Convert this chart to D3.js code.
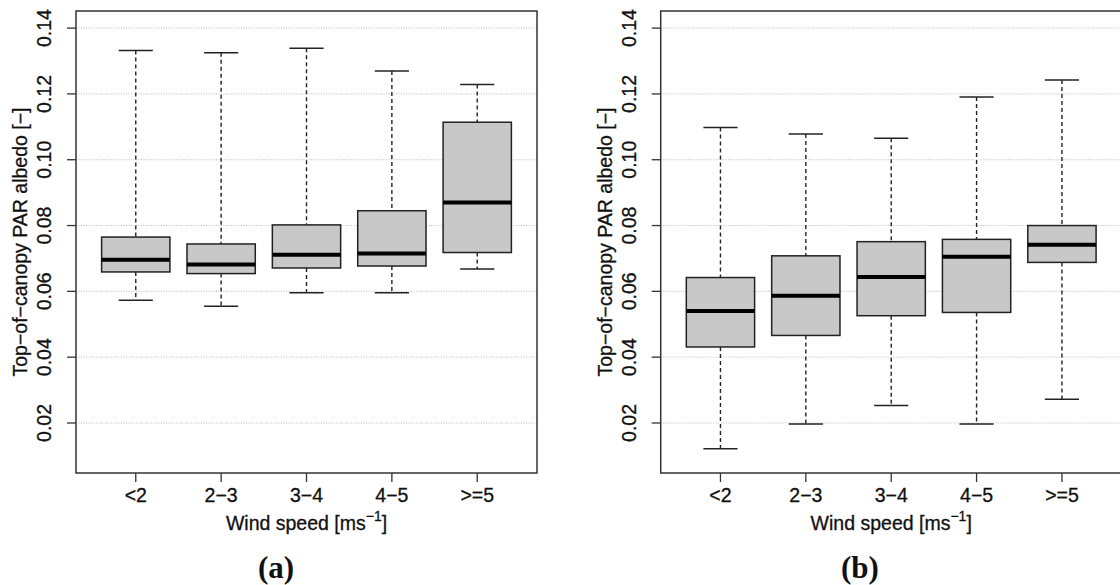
<!DOCTYPE html>
<html>
<head>
<meta charset="utf-8">
<script src="https://cdn.jsdelivr.net/npm/d3@7.9.0/dist/d3.min.js"></script>
<style>
  body { margin: 0; background: #fff; }
  svg { display: block; }
  text { font-family: "Liberation Sans", Arial, sans-serif; fill: #111; stroke: #111; stroke-width: 0.3px; }
  .caption { font-family: "Liberation Serif", "Times New Roman", serif; font-weight: bold; stroke: none; }
</style>
</head>
<body>
<svg id="chart" width="1120" height="585"></svg>
<script>
// wind speed classes
const windClasses = ['<2', '2\u22123', '3\u22124', '4\u22125', '>=5'];
const yTicks = [0.02, 0.04, 0.06, 0.08, 0.10, 0.12, 0.14];

// panel (a) box statistics
const aLow  = [0.0573, 0.0555, 0.0596, 0.0596, 0.0668];
const aQ1   = [0.0659, 0.0654, 0.0671, 0.0677, 0.0718];
const aMed  = [0.0696, 0.0682, 0.0711, 0.0715, 0.0870];
const aQ3   = [0.0765, 0.0744, 0.0802, 0.0845, 0.1114];
const aHigh = [0.1332, 0.1325, 0.1339, 0.1270, 0.1229];

// panel (b) box statistics
const bLow  = [0.0122, 0.0197, 0.0253, 0.0197, 0.0272];
const bQ1   = [0.0431, 0.0466, 0.0526, 0.0536, 0.0688];
const bMed  = [0.0540, 0.0587, 0.0644, 0.0705, 0.0742];
const bQ3   = [0.0642, 0.0708, 0.0751, 0.0758, 0.0800];
const bHigh = [0.1098, 0.1078, 0.1065, 0.1191, 0.1242];

const svg = d3.select('#chart');

function drawPanel(left, low, q1, med, q3, high, caption, captionX) {
    const top = 11, bottom = 473, width = 461;
    // R style: ylim c(0.01, 0.14) extended by 4%
    const y = d3.scaleLinear().domain([0.0048, 0.1452]).range([bottom, top]);
    const x = d3.scaleLinear().domain([0.3, 5.7]).range([left, left + width]);
    const g = svg.append('g');

    // dotted grid lines
    g.selectAll('.grid').data(yTicks).join('line')
        .attr('x1', left).attr('x2', left + width)
        .attr('y1', d => y(d)).attr('y2', d => y(d))
        .attr('stroke', '#bbb').attr('stroke-width', 1)
        .attr('stroke-dasharray', '1,1.5');

    const boxes = windClasses.map((c, i) => ({
        pos: i + 1, low: low[i], q1: q1[i], med: med[i], q3: q3[i], high: high[i]
    }));

    // whiskers (dashed)
    boxes.forEach(d => {
        g.append('line')
            .attr('x1', x(d.pos)).attr('x2', x(d.pos))
            .attr('y1', y(d.high)).attr('y2', y(d.q3))
            .attr('stroke', '#222').attr('stroke-width', 1.4).attr('stroke-dasharray', '4,3');
        g.append('line')
            .attr('x1', x(d.pos)).attr('x2', x(d.pos))
            .attr('y1', y(d.q1)).attr('y2', y(d.low))
            .attr('stroke', '#222').attr('stroke-width', 1.4).attr('stroke-dasharray', '4,3');
        // staples
        [d.high, d.low].forEach(v => {
            g.append('line')
                .attr('x1', x(d.pos - 0.2)).attr('x2', x(d.pos + 0.2))
                .attr('y1', y(v)).attr('y2', y(v))
                .attr('stroke', '#222').attr('stroke-width', 1.5);
        });
    });

    // boxes
    g.selectAll('.box').data(boxes).join('rect')
        .attr('x', d => x(d.pos - 0.4))
        .attr('width', d => x(d.pos + 0.4) - x(d.pos - 0.4))
        .attr('y', d => y(d.q3))
        .attr('height', d => y(d.q1) - y(d.q3))
        .attr('fill', '#c8c8c8').attr('stroke', '#222').attr('stroke-width', 1.5);

    // medians
    g.selectAll('.med').data(boxes).join('line')
        .attr('x1', d => x(d.pos - 0.4)).attr('x2', d => x(d.pos + 0.4))
        .attr('y1', d => y(d.med)).attr('y2', d => y(d.med))
        .attr('stroke', '#000').attr('stroke-width', 4);

    // frame
    g.append('rect')
        .attr('x', left).attr('y', top).attr('width', width).attr('height', bottom - top)
        .attr('fill', 'none').attr('stroke', '#333').attr('stroke-width', 1.5);

    // y axis ticks and labels
    yTicks.forEach(t => {
        g.append('line')
            .attr('x1', left - 9).attr('x2', left)
            .attr('y1', y(t)).attr('y2', y(t))
            .attr('stroke', '#333').attr('stroke-width', 1.3);
        g.append('text')
            .attr('transform', `translate(${left - 25},${y(t)}) rotate(-90)`)
            .attr('text-anchor', 'middle')
            .attr('font-size', 19.5)
            .text(t.toFixed(2));
    });

    // x axis ticks and labels
    boxes.forEach((d, i) => {
        g.append('line')
            .attr('x1', x(d.pos)).attr('x2', x(d.pos))
            .attr('y1', bottom).attr('y2', bottom + 9)
            .attr('stroke', '#333').attr('stroke-width', 1.3);
        g.append('text')
            .attr('x', x(d.pos)).attr('y', 502)
            .attr('text-anchor', 'middle')
            .attr('font-size', 19.5)
            .text(windClasses[i]);
    });

    // axis titles
    const xt = g.append('text')
        .attr('x', left + width / 2).attr('y', 530)
        .attr('text-anchor', 'middle')
        .attr('font-size', 19.5);
    xt.append('tspan').text('Wind speed [ms');
    xt.append('tspan').attr('dy', -9).attr('font-size', 14).text('\u22121');
    xt.append('tspan').attr('dy', 9).text(']');

    g.append('text')
        .attr('transform', `translate(${left - 49},${(top + bottom) / 2}) rotate(-90)`)
        .attr('text-anchor', 'middle')
        .attr('font-size', 19.5)
        .text('Top\u2212of\u2212canopy PAR albedo [\u2212]');

    // caption
    g.append('text')
        .attr('class', 'caption')
        .attr('x', captionX).attr('y', 578)
        .attr('text-anchor', 'middle')
        .attr('font-size', 31)
        .text(caption);
}

drawPanel(76, aLow, aQ1, aMed, aQ3, aHigh, '(a)', 276);
drawPanel(660.7, bLow, bQ1, bMed, bQ3, bHigh, '(b)', 860);
</script>
</body>
</html>
